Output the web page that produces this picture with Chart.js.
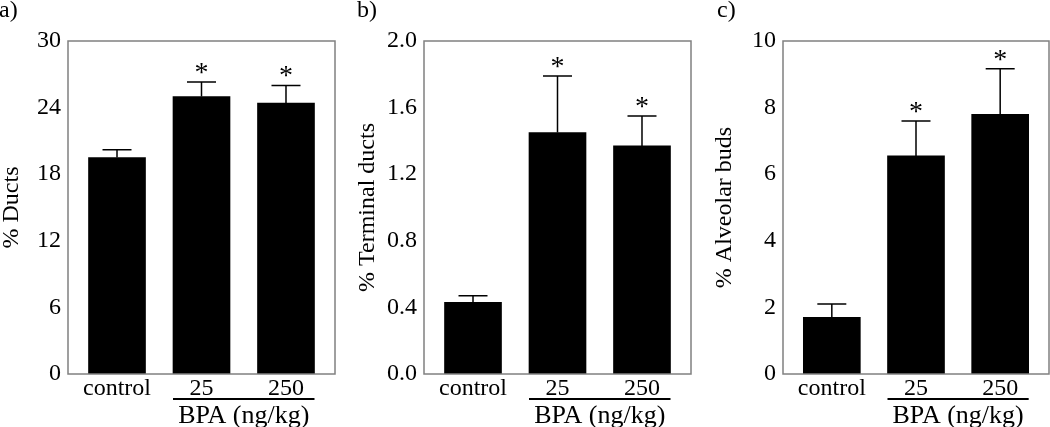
<!DOCTYPE html>
<html>
<head>
<meta charset="utf-8">
<script src="https://cdn.jsdelivr.net/npm/chart.js@4.4.1/dist/chart.umd.min.js"></script>
<style>
  html, body { margin:0; padding:0; background:#fff; }
  #wrap { position:relative; width:1050px; height:427px; overflow:hidden; }
  #wrap canvas { position:absolute; top:0; }
</style>
</head>
<body>
<div id="wrap">
  <canvas id="cA" width="350" height="427" style="left:0"></canvas>
  <canvas id="cB" width="350" height="427" style="left:350px"></canvas>
  <canvas id="cC" width="350" height="427" style="left:700px"></canvas>
</div>
<script>
// ── data ──
const groups = ['control', '25', '250'];
const signif = [false, true, true];
const doseLabel = 'BPA (ng/kg)';

const ductsMean = [19.5, 25.0, 24.4];
const ductsSem  = [0.7, 1.3, 1.6];

const termMean = [0.43, 1.45, 1.37];
const termSem  = [0.04, 0.34, 0.18];

const budsMean = [1.7, 6.55, 7.8];
const budsSem  = [0.4, 1.05, 1.37];

const SERIF = "'Liberation Serif', 'Times New Roman', serif";

// frame, error bars, asterisks, BPA bracket, panel letter
const decor = {
    id: 'decor',
    afterDatasetsDraw(chart, args, o) {
        const {ctx, chartArea: a} = chart;
        const xs = chart.scales.x, ys = chart.scales.y;
        const bars = chart.getDatasetMeta(0).data;
        ctx.save();

        // box
        ctx.strokeStyle = '#808080';
        ctx.lineWidth = 1.5;
        ctx.strokeRect(a.left, a.top, a.right - a.left, a.bottom - a.top);

        // upper error bars + stars
        ctx.strokeStyle = '#000';
        ctx.fillStyle = '#000';
        ctx.lineWidth = 1.5;
        ctx.font = '28px ' + SERIF;
        ctx.textAlign = 'center';
        ctx.textBaseline = 'alphabetic';
        o.mean.forEach((m, i) => {
            const x = xs.getPixelForValue(i);
            const y0 = ys.getPixelForValue(m);
            const y1 = ys.getPixelForValue(m + o.sem[i]);
            ctx.beginPath();
            ctx.moveTo(x, y0); ctx.lineTo(x, y1);
            ctx.moveTo(x - 14.5, y1); ctx.lineTo(x + 14.5, y1);
            ctx.stroke();
            if (signif[i]) ctx.fillText('*', x, y1 - 1);
        });

        // BPA bracket under the dose bars
        const l = bars[1].x - bars[1].width / 2;
        const r = bars[2].x + bars[2].width / 2;
        ctx.lineWidth = 2;
        ctx.beginPath();
        ctx.moveTo(l, a.bottom + 25); ctx.lineTo(r, a.bottom + 25);
        ctx.stroke();
        ctx.font = '26px ' + SERIF;
        ctx.fillText(doseLabel, (l + r) / 2, a.bottom + 49);

        // panel letter
        ctx.textAlign = 'left';
        ctx.font = '24px ' + SERIF;
        ctx.fillText(o.letter, o.letterX, 17);
        ctx.restore();
    }
};

function panel(id, mean, sem, yMax, yStep, yTitle, yDec, axisW, padR, titlePad, letter, letterX) {
    return new Chart(document.getElementById(id), {
        type: 'bar',
        data: {
            datasets: [{
                data: mean.map((v, i) => ({x: i, y: v})),
                backgroundColor: '#000',
                borderWidth: 0,
                barThickness: 57
            }]
        },
        options: {
            responsive: false,
            animation: false,
            layout: {padding: {left: 0, top: 41, right: padR, bottom: 0}},
            plugins: {
                legend: {display: false},
                tooltip: {enabled: false},
                decor: {mean, sem, letter, letterX}
            },
            scales: {
                x: {
                    type: 'linear', min: -0.58, max: 2.58, bounds: 'data', offset: false,
                    grid: {display: false, drawTicks: false, offset: false},
                    border: {display: false},
                    ticks: {
                        padding: 0, autoSkip: false, maxRotation: 0,
                        color: '#000', font: {family: SERIF, size: 24},
                        callback: v => groups[v] ?? ''
                    },
                    afterBuildTicks: s => { s.ticks = groups.map((g, i) => ({value: i})); },
                    afterFit: s => { s.height = 53; }
                },
                y: {
                    min: 0, max: yMax,
                    grid: {display: false, drawTicks: false},
                    border: {display: false},
                    ticks: {
                        stepSize: yStep, padding: 7,
                        color: '#000', font: {family: SERIF, size: 24},
                        callback: v => v.toFixed(yDec)
                    },
                    title: {
                        display: true, text: yTitle, color: '#000',
                        font: {family: SERIF, size: 24, lineHeight: 1},
                        padding: {top: titlePad, bottom: 0}
                    },
                    afterFit: s => { s.width = axisW; }
                }
            }
        },
        plugins: [decor]
    });
}

window.addEventListener('DOMContentLoaded', () => {
    panel('cA', ductsMean, ductsSem, 30, 6, '% Ducts', 0, 68, 15, 0, 'a)', -1);
    panel('cB', termMean, termSem, 2.0, 0.4, '% Terminal ducts', 1, 74, 9, 5.5, 'b)', 7);
    panel('cC', budsMean, budsSem, 10, 2, '% Alveolar buds', 0, 83, 1, 13, 'c)', 17);
});
</script>
</body>
</html>
